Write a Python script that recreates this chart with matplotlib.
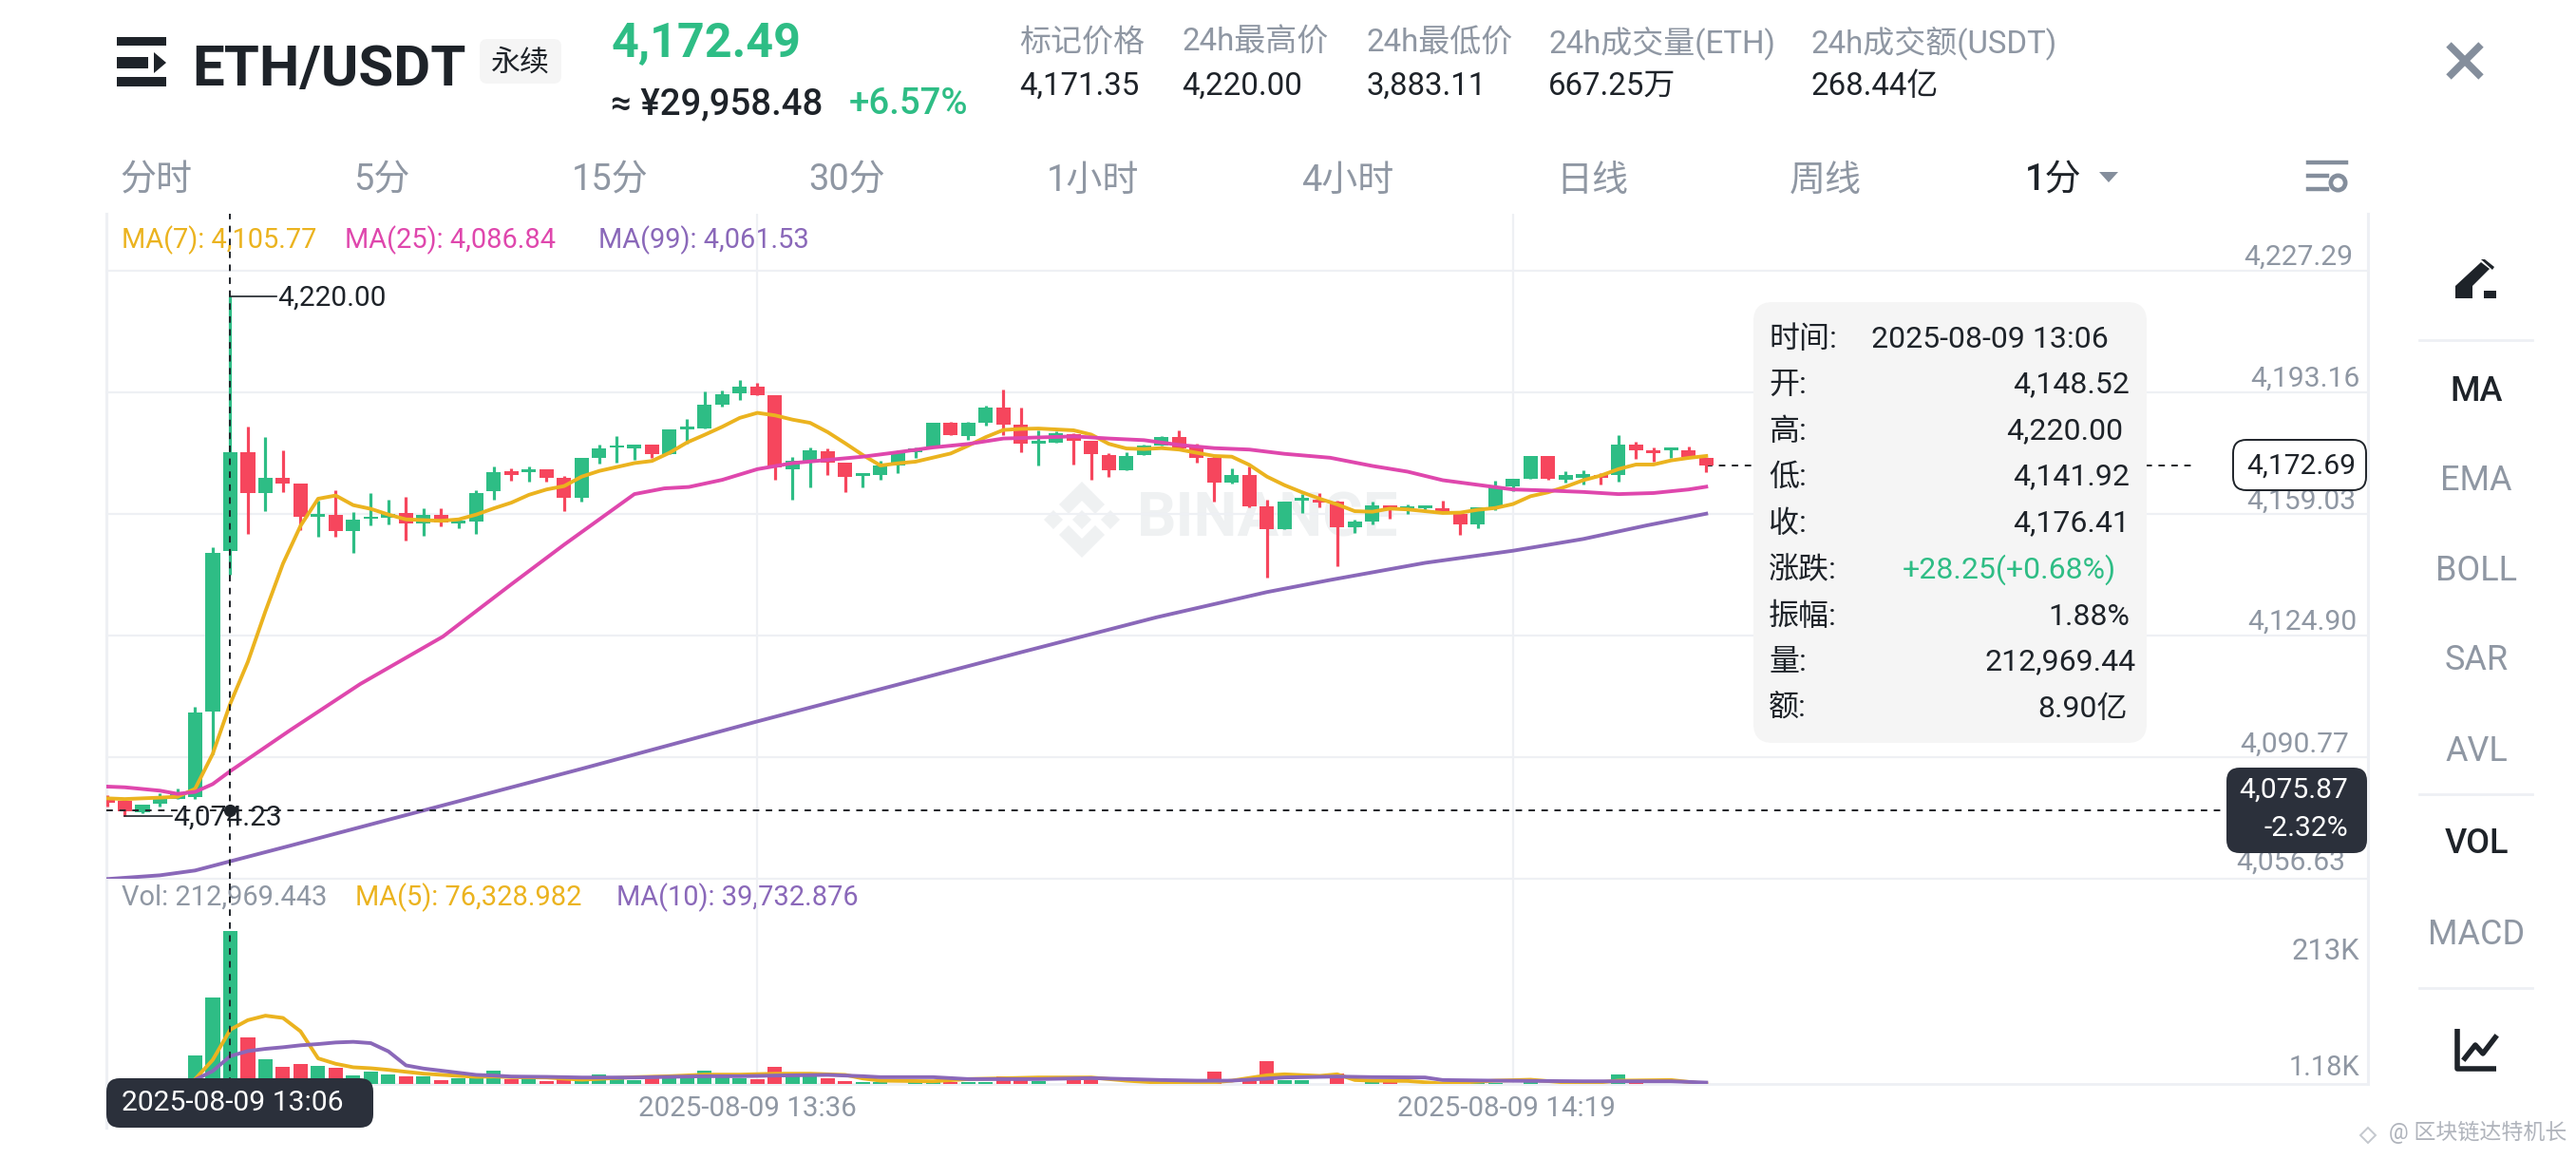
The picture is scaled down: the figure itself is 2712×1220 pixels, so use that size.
# ETH/USDT 1分钟K线图

import matplotlib
matplotlib.use('Agg')
import matplotlib.pyplot as plt
from matplotlib.patches import FancyBboxPatch, Polygon, Rectangle

plt.rcParams['font.family'] = ['Roboto', 'Noto Sans CJK SC', 'DejaVu Sans']

# 从 12:59 开始,0 表示 13:06
opens = [4079.66, 4078.50, 4075.39, 4077.62, 4079.04, 4079.66, 4103.66, 4148.52,
         4176.36, 4164.81, 4169.07, 4167.47, 4158.32, 4158.76, 4154.14, 4157.60, 4158.05, 4159.38,
         4156.36, 4158.85, 4156.45, 4156.90, 4165.52, 4170.94, 4170.67, 4171.56, 4169.25, 4163.56,
         4174.85, 4177.60, 4177.43, 4178.58, 4175.74, 4182.85, 4183.12, 4189.78, 4192.80,
         4194.67, 4192.45, 4171.56, 4173.96, 4176.72, 4173.52, 4169.61, 4169.87, 4172.63, 4176.45,
         4177.96, 4184.54, 4180.98, 4184.54, 4188.89, 4184.00, 4178.67, 4179.12, 4181.52, 4179.65,
         4175.56, 4171.21, 4175.47, 4178.14, 4180.63, 4178.14, 4174.85, 4167.74, 4169.87, 4161.16,
         4154.85, 4162.68, 4163.12, 4162.50, 4155.30, 4156.90, 4161.34, 4160.36, 4160.72, 4160.54,
         4158.94, 4156.00, 4160.90, 4166.67, 4168.98, 4175.20, 4168.72, 4169.16, 4170.05, 4169.87,
         4178.49, 4176.80, 4176.98, 4176.80, 4174.76]
highs = [4080.00, 4078.50, 4077.44, 4080.73, 4081.88, 4104.81, 4149.78, 4220.00,
         4183.65, 4180.63, 4176.81, 4167.47, 4162.85, 4165.70, 4159.56, 4164.90, 4163.03, 4163.92,
         4160.72, 4160.54, 4157.16, 4165.70, 4172.45, 4171.92, 4172.45, 4171.56, 4169.69, 4174.85,
         4178.58, 4180.80, 4178.58, 4178.58, 4182.85, 4185.69, 4193.34, 4193.78, 4196.54,
         4195.92, 4192.45, 4175.03, 4177.78, 4177.34, 4173.52, 4170.41, 4173.96, 4176.90, 4177.69,
         4184.72, 4184.80, 4184.80, 4189.34, 4193.96, 4188.89, 4182.58, 4182.14, 4181.69, 4179.65,
         4176.18, 4176.36, 4178.58, 4180.90, 4182.58, 4178.67, 4175.47, 4171.92, 4172.45, 4163.03,
         4162.59, 4164.63, 4164.90, 4162.67, 4157.34, 4162.50, 4161.34, 4161.79, 4161.43, 4162.67,
         4158.94, 4160.90, 4168.45, 4168.81, 4175.20, 4175.20, 4170.94, 4171.38, 4170.50, 4181.16,
         4179.20, 4177.78, 4177.69, 4178.00, 4174.76]
lows = [4077.00, 4074.23, 4075.13, 4077.00, 4078.95, 4079.04, 4091.66, 4141.92,
        4153.50, 4159.92, 4165.25, 4154.41, 4152.63, 4152.63, 4148.19, 4155.92, 4156.01, 4151.65,
        4152.99, 4155.65, 4155.03, 4153.34, 4163.03, 4168.45, 4168.00, 4168.18, 4159.92, 4162.41,
        4173.07, 4173.52, 4174.23, 4174.85, 4175.74, 4178.85, 4183.12, 4189.25, 4190.94,
        4192.45, 4168.63, 4162.94, 4166.58, 4169.96, 4165.25, 4166.41, 4168.54, 4170.41, 4174.85,
        4177.96, 4181.07, 4179.74, 4183.92, 4181.25, 4176.36, 4172.63, 4179.12, 4172.90, 4168.54,
        4169.43, 4171.21, 4175.47, 4178.14, 4177.52, 4173.52, 4162.59, 4167.47, 4160.98, 4141.08,
        4154.85, 4159.30, 4160.90, 4144.36, 4153.70, 4156.00, 4157.79, 4159.03, 4160.10, 4159.65,
        4153.16, 4154.94, 4160.00, 4165.43, 4168.98, 4168.70, 4167.83, 4167.38, 4167.38, 4168.00,
        4174.50, 4173.60, 4174.67, 4174.94, 4170.67]
closes = [4078.06, 4075.48, 4077.44, 4078.95, 4080.28, 4103.39, 4148.01, 4176.41,
          4164.90, 4169.07, 4167.65, 4158.23, 4159.03, 4154.14, 4157.52, 4158.32, 4159.12, 4156.36,
          4158.85, 4156.54, 4157.16, 4164.99, 4170.67, 4170.05, 4171.65, 4169.25, 4163.56, 4174.85,
          4177.34, 4178.30, 4178.58, 4175.74, 4182.85, 4183.56, 4189.69, 4192.63, 4194.67,
          4192.45, 4172.18, 4173.96, 4176.90, 4173.52, 4169.52, 4170.41, 4172.54, 4176.18, 4177.52,
          4184.54, 4181.07, 4184.54, 4188.89, 4184.09, 4178.67, 4179.47, 4181.69, 4179.65, 4175.74,
          4171.21, 4175.38, 4178.23, 4180.63, 4177.52, 4174.85, 4167.74, 4169.87, 4161.16, 4154.85,
          4162.59, 4163.48, 4162.23, 4155.30, 4156.90, 4161.43, 4160.45, 4161.07, 4161.43, 4159.65,
          4156.00, 4160.90, 4166.50, 4168.81, 4175.20, 4168.98, 4169.87, 4170.23, 4169.25, 4178.49,
          4176.98, 4176.00, 4177.69, 4174.94, 4172.72]
volumes = [1500, 1800, 1300, 1200, 2500, 40560, 121250, 212969,
           65250, 35700, 24700, 29100, 26450, 22900, 13200, 18000, 14500, 12300,
           12350, 7050, 8800, 8800, 18960, 8380, 9260, 5730, 8380, 7050,
           14100, 8380, 6600, 8800, 9260, 14550, 19400, 10100, 9260, 8380,
           24700, 16750, 11460, 9260, 5730, 4400, 3970, 1180, 3500, 3970,
           4400, 3970, 3970, 12350, 6600, 5300, 1180, 6170, 11460, 1180,
           1180, 1180, 1180, 1180, 1180, 17640, 1180, 5730, 33070, 6600,
           6600, 1180, 15870, 1180, 3970, 5300, 1180, 1180, 2650, 2650,
           2650, 3090, 1180, 4400, 1180, 1180, 1180, 1180, 14550, 2650,
           1180, 1180, 1180, 1180]

ma7 = [4079.2, 4079.0, 4079.2, 4079.4, 4079.66, 4081.88, 4091.66, 4105.77,
       4117.5, 4131.7, 4145.07, 4155.7, 4163.3, 4164.2, 4161.5, 4160.45, 4158.85, 4157.5,
       4157.3, 4157.1, 4157.5, 4158.85, 4160.6, 4162.2, 4164.4, 4165.9, 4166.85, 4169.5,
       4171.1, 4172.2, 4173.3, 4173.9, 4176.2, 4179.1, 4181.25, 4183.5, 4186.0,
       4187.4, 4186.7, 4185.5, 4184.6, 4182.0, 4178.85, 4175.56, 4172.63, 4173.25, 4173.7,
       4174.85, 4176.0, 4178.2, 4180.6, 4182.6, 4182.9, 4183.0, 4182.75, 4182.5, 4181.3,
       4178.7, 4177.4, 4177.25, 4177.5, 4177.1, 4176.2, 4175.3, 4175.1, 4172.8, 4169.5,
       4167.1, 4165.1, 4163.3, 4161.7, 4159.8, 4159.65, 4160.54, 4160.3, 4159.8, 4159.3,
       4159.4, 4160.2, 4160.7, 4161.8, 4164.0, 4165.1, 4166.67, 4168.5, 4169.8, 4171.6,
       4172.9, 4172.9, 4174.05, 4174.76, 4175.3]

ma25_x = [-7, -6, -4, -3, -2, -1, 0, 3.4, 7.4, 12.1, 16, 19, 23, 24.7, 26.1, 28, 30,
          32, 34, 36, 38, 40, 42, 44, 46, 48, 50, 52, 54, 56, 58, 60, 62.6,
          65, 67, 69, 71, 73, 75, 77, 79, 81, 83, 84]
ma25 = [4082.5, 4082.3, 4081.35, 4080.45, 4081.0, 4083.2, 4086.84, 4098.3, 4111.3, 4124.6, 4139.3,
        4150.4, 4164.6, 4166.2, 4166.6, 4168.6, 4171.6, 4173.3, 4174.2, 4175.1, 4176.36, 4177.7,
        4178.67, 4180.2, 4180.5, 4180.8, 4180.2, 4179.74, 4178.4, 4177.5, 4177.1, 4175.9, 4174.8,
        4172.5, 4170.9, 4168.5, 4167.2, 4165.9, 4165.6, 4165.2, 4164.6, 4164.9, 4165.9, 4166.67]

ma99_x = [-7, -4, -2, 0, 3.4, 10, 20, 30, 45, 52.7, 59, 62.6, 68, 73, 77, 80.6, 84]
ma99 = [4056.55, 4057.6, 4058.95, 4061.53, 4065.9, 4074.5, 4087.5, 4100.8, 4120.2, 4130.0,
        4137.1, 4140.5, 4145.3, 4148.7, 4152.0, 4155.8, 4159.1]

vol5_x = [-2, -1, 0, 1, 2, 3, 4, 5, 6, 7, 8, 9, 10, 11, 13, 14, 15, 16, 18, 20, 23, 25, 27, 29, 31, 33,
          35, 36, 37, 40, 42, 46, 49, 51, 54, 55, 57, 59, 60, 62, 63, 64, 65, 67, 69, 72, 74, 77, 79, 82, 84]
vol5 = [7900, 34400, 76329, 89500, 95700, 92600, 74000, 36600, 29100, 24250, 22900, 20700, 18000,
        15400, 12350, 11000, 11460, 10580, 10100, 7050, 10580, 11900, 14100, 14100, 15400, 15400,
        13700, 8800, 5730, 4850, 7900, 10140, 10140, 5730, 1300, 1300, 5730, 13200, 14550, 12350,
        14550, 6600, 5730, 5300, 1760, 5730, 7050, 1300, 5730, 6600, 1300]
vol10_x = [-2, -1, 0, 1, 2, 3, 4, 5, 6, 7, 8, 9, 10, 11, 14, 15, 16, 18, 20, 23, 25, 27, 29, 31, 34,
           36, 37, 40, 42, 46, 49, 53, 55, 57, 60, 63, 65, 68, 69, 72, 77, 82, 84]
vol10 = [7000, 19000, 39733, 46700, 49800, 52000, 54700, 56400, 58600, 59500, 57700, 46300, 26900,
         22500, 13700, 12800, 11460, 11000, 10100, 10100, 11000, 11900, 11900, 12800, 13700, 11900,
         10580, 10580, 7900, 7900, 9260, 6600, 5730, 5730, 10140, 11460, 10580, 10140, 6600, 5730,
         4850, 4850, 3090]

price_ticks = [4227.29, 4193.16, 4159.03, 4124.90, 4090.77, 4056.63]
date_marks = [30, 73]
date_labels = ['2025-08-09 13:36', '2025-08-09 14:19']

tabs = ['分时', '5分', '15分', '30分', '1小时', '4小时', '日线', '周线']
stat_names = ['标记价格', '24h最高价', '24h最低价', '24h成交量(ETH)', '24h成交额(USDT)']
stat_values = ['4,171.35', '4,220.00', '3,883.11', '667.25万', '268.44亿']
tip_names = ['时间:', '开:', '高:', '低:', '收:', '涨跌:', '振幅:', '量:', '额:']
tip_values = ['2025-08-09 13:06', '4,148.52', '4,220.00', '4,141.92', '4,176.41',
              '+28.25(+0.68%)', '1.88%', '212,969.44', '8.90亿']
side_names = ['MA', 'EMA', 'BOLL', 'SAR', 'AVL', 'VOL', 'MACD']

GREEN = '#2ebd85'
RED = '#f6465d'
YELLOW = '#ebb31f'
PINK = '#df47ad'
PURPLE = '#8a68b9'
DARK = '#1e2329'
GRAY = '#8f97a3'
GRID = '#eef0f4'
NAVY = '#2b303b'

W, H = 2712, 1220
fig = plt.figure(figsize=(W / 100, H / 100), dpi=100, facecolor='white')


def make_axes(x0, y0, x1, y1, z):
    ax = fig.add_axes([x0 / W, 1 - y1 / H, (x1 - x0) / W, (y1 - y0) / H], zorder=z)
    ax.patch.set_alpha(0)
    ax.set_xticks([])
    ax.set_yticks([])
    for s in ax.spines.values():
        s.set_visible(False)
    return ax


# 背景层和前景层都用像素坐标
back = make_axes(0, 0, W, H, 0)
back.set_xlim(0, W)
back.set_ylim(H, 0)
front = make_axes(0, 0, W, H, 5)
front.set_xlim(0, W)
front.set_ylim(H, 0)

ax = make_axes(112, 225, 2493, 925, 2)
vax = make_axes(112, 925, 2493, 1141, 2)
ax.set_xlim(-7.05, 121.66)
vax.set_xlim(-7.05, 121.66)
ax.set_ylim(4056.63, 4243.29)
vax.set_ylim(1180, 285300)


def txt(a, x, y, s, px, color=DARK, ha='left', va='center', weight='normal', **kw):
    # va=center 比参考图偏上一点,统一下移
    return a.text(x, y + 3, s, fontsize=px * 0.72, color=color, ha=ha, va=va, fontweight=weight, **kw)


def box(a, x0, y0, x1, y1, r, fc, ec='none', lw=0, z=3):
    a.add_patch(FancyBboxPatch((x0 + r, y0 + r), x1 - x0 - 2 * r, y1 - y0 - 2 * r,
                               boxstyle='round,pad=%d,rounding_size=%d' % (r, r),
                               fc=fc, ec=ec, lw=lw, zorder=z))


# 水印
for pts in ([(1139, 507), (1163, 531), (1153, 541), (1139, 527), (1125, 541), (1115, 531)],
            [(1139, 587), (1163, 563), (1153, 553), (1139, 567), (1125, 553), (1115, 563)],
            [(1139, 537), (1149, 547), (1139, 557), (1129, 547)],
            [(1099, 547), (1109, 537), (1119, 547), (1109, 557)],
            [(1159, 547), (1169, 537), (1179, 547), (1169, 557)]):
    back.add_patch(Polygon(pts, fc='#eff1f2', ec='none'))
txt(back, 1197, 544, 'BINANCE', 65, color='#eff1f2', weight='bold')

# 网格线
for v in price_ticks:
    ax.axhline(v, color=GRID, lw=1.6, zorder=0, clip_on=False)
for m in date_marks:
    ax.axvline(m, color=GRID, lw=1.6, zorder=0)
    vax.axvline(m, color=GRID, lw=1.6, zorder=0)
vax.axhline(1180, color=GRID, lw=2, zorder=0, clip_on=False)
back.plot([112, 112], [225, 1187], color=GRID, lw=2.2)
back.plot([2493, 2493], [225, 1141], color=GRID, lw=2.2)

# K线和成交量
xs = list(range(-7, 85))
colors = [GREEN if c >= o else RED for o, c in zip(opens, closes)]
ax.vlines(xs, lows, highs, colors=colors, lw=2.3, zorder=2)
ax.bar(xs, [abs(c - o) for o, c in zip(opens, closes)], bottom=[min(o, c) for o, c in zip(opens, closes)],
       width=0.82, color=colors, zorder=2)
vax.bar(xs, [v - 1180 for v in volumes], bottom=1180, width=0.82, color=colors, zorder=2)

# 均线
ax.plot(xs, ma7, color=YELLOW, lw=2.8, zorder=3)
ax.plot(ma25_x, ma25, color=PINK, lw=2.8, zorder=3)
ax.plot(ma99_x, ma99, color=PURPLE, lw=2.8, zorder=3)
vax.plot(vol5_x, vol5, color=YELLOW, lw=2.8, zorder=3)
vax.plot(vol10_x, vol10, color=PURPLE, lw=2.8, zorder=3)

# 十字线和最新价虚线
dash = (0, (3.5, 3.5))
ax.axvline(0, color=DARK, lw=1.4, ls=dash, zorder=4)
vax.axvline(0, color=DARK, lw=1.4, ls=dash, zorder=4)
ax.axhline(4075.87, color=DARK, lw=1.4, ls=dash, zorder=4)
ax.plot([84, 111.7], [4172.69, 4172.69], color=DARK, lw=1.4, ls=dash, zorder=1)
ax.plot([0], [4075.87], 'o', color=DARK, ms=8.5, zorder=5)

# 最高最低标注
ax.plot([0, 2.6], [4220, 4220], color=DARK, lw=1.2, zorder=4)
ax.plot([-6, -3.3], [4074.23, 4074.23], color=DARK, lw=1.2, zorder=4)
ax.annotate('4,220.00', (2.7, 4219.6), fontsize=21.5, color=DARK, va='center', zorder=6)
ax.annotate('4,074.23', (-3.25, 4073.8), fontsize=21.5, color=DARK, va='center', zorder=6)

# 价格刻度
tick_right = [2477, 2485, 2480, 2481, 2473, 2469]
tick_y = [268, 396, 525, 652, 781, 905]
for v, r, y in zip(price_ticks, tick_right, tick_y):
    txt(back, r, y, format(v, ',.2f'), 30, color=GRAY, ha='right')
txt(back, 2484, 998, '213K', 31, color=GRAY, ha='right')
txt(back, 2484, 1121, '1.18K', 29, color=GRAY, ha='right')
date_x = [787, 1586]
for x, s in zip(date_x, date_labels):
    txt(back, x, 1164, s, 29.5, color=GRAY, ha='center')

# 指标图例
txt(back, 128, 250, 'MA(7): 4,105.77', 29, color=YELLOW)
txt(back, 363, 250, 'MA(25): 4,086.84', 29, color=PINK)
txt(back, 630, 250, 'MA(99): 4,061.53', 29, color=PURPLE)
txt(back, 128, 942, 'Vol: 212,969.443', 29, color=GRAY)
txt(back, 374, 942, 'MA(5): 76,328.982', 29, color=YELLOW)
txt(back, 649, 942, 'MA(10): 39,732.876', 29, color=PURPLE)

# 标题栏
back.add_patch(Rectangle((123, 39), 52, 9, fc=DARK))
back.add_patch(Rectangle((123, 81), 52, 10, fc=DARK))
back.add_patch(Rectangle((123, 60), 33, 12, fc=DARK))
back.add_patch(Polygon([(162, 55), (175, 66), (162, 77)], fc=DARK))
back.text(202, 90, 'ETH/USDT', fontsize=43.2, color=DARK, fontweight='bold', va='baseline')
box(back, 505, 41, 591, 88, 8, '#f5f5f5')
txt(back, 548, 63, '永续', 31, ha='center', zorder=4)
back.text(644, 60, '4,172.49', fontsize=36.2, color=GREEN, fontweight='bold', va='baseline')
back.text(643, 120, '≈ ¥29,958.48', fontsize=27.6, color=DARK, fontweight='medium', va='baseline')
back.text(894, 120, '+6.57%', fontsize=27.6, color=GREEN, fontweight='medium', va='baseline')
stat_x = [1073, 1244, 1438, 1630, 1906]
for x, n, v in zip(stat_x, stat_names, stat_values):
    txt(back, x, 42, n, 33, color=GRAY)
    txt(back, x, 88, v, 33)
back.plot([2578, 2612], [47, 81], color='#848e9c', lw=5.5, solid_capstyle='butt')
back.plot([2578, 2612], [81, 47], color='#848e9c', lw=5.5, solid_capstyle='butt')

# 周期栏
tab_x = [126, 372, 602, 851, 1102, 1370, 1638, 1884]
for x, s in zip(tab_x, tabs):
    txt(back, x, 187, s, 38, color=GRAY)
txt(back, 2132, 187, '1分', 38, weight='medium')
back.add_patch(Polygon([(2210, 181), (2230, 181), (2220, 192)], fc='#848e9c'))
# 设置图标
back.plot([2430, 2470], [171, 171], color='#848e9c', lw=3.2)
back.plot([2430, 2450], [185, 185], color='#848e9c', lw=3.2)
back.plot([2430, 2450], [199, 199], color='#848e9c', lw=3.2)
back.plot([2461], [192], 'o', ms=11, mfc='white', mec='#848e9c', mew=3.4)

# 右侧栏
side_y = [409, 503, 598, 692, 788, 885, 981]
for y, s in zip(side_y, side_names):
    dark = s in ('MA', 'VOL')
    txt(back, 2607, y, s, 36, color=DARK if dark else GRAY, ha='center', weight='medium' if dark else 'normal')
for y in (358, 836, 1040):
    back.plot([2547, 2666], [y, y], color=GRID, lw=2)
back.add_patch(Polygon([(2585, 301), (2612, 276), (2621, 283), (2603, 301), (2603, 314), (2585, 314)], fc=DARK))
back.add_patch(Polygon([(2612, 273), (2616, 273), (2626, 281), (2624, 284)], fc=DARK))
back.add_patch(Rectangle((2615, 306), 13, 8, fc=DARK))
back.plot([2587, 2587, 2628], [1083, 1125, 1125], color=DARK, lw=4, solid_capstyle='butt')
back.plot([2595, 2606, 2614, 2627], [1114, 1100, 1109, 1092], color=DARK, lw=4)

# 悬浮信息框
box(front, 1846, 318, 2260, 782, 20, '#f5f5f5', z=1)
tip_y = [354, 402, 451, 499, 548, 597, 646, 694, 743]
tip_right = [2220, 2242, 2235, 2242, 2242, 2228, 2242, 2249, 2240]
for i, (n, v) in enumerate(zip(tip_names, tip_values)):
    txt(front, 1862, tip_y[i], n, 32, zorder=2)
    txt(front, tip_right[i], tip_y[i], v, 32, color=GREEN if i == 5 else DARK, ha='right', zorder=2)

# 价格标签
box(front, 2351, 463, 2491, 516, 14, 'white', ec=DARK, lw=1.4, z=3)
txt(front, 2480, 488, '4,172.69', 30, ha='right', zorder=4)
box(front, 2344, 808, 2492, 898, 14, NAVY, z=3)
txt(front, 2472, 829, '4,075.87', 30, color='white', ha='right', zorder=4)
txt(front, 2472, 869, '-2.32%', 30, color='white', ha='right', zorder=4)

# 时间标签
box(front, 112, 1135, 393, 1187, 14, NAVY, z=3)
txt(front, 128, 1158, '2025-08-09 13:06', 30, color='white', zorder=4)

# 右下角水印
front.add_patch(Polygon([(2493, 1187), (2501, 1195), (2493, 1203), (2485, 1195)], fc='none', ec='#c4c8ce', lw=1.4))
txt(front, 2702, 1189, '@ 区块链达特机长', 23, color='#b0b4bc', ha='right')

fig.savefig('out.png', dpi=100)
